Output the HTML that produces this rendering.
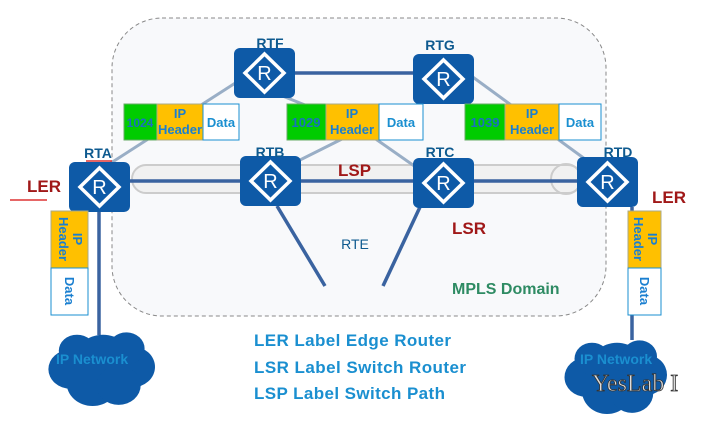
<!DOCTYPE html>
<html><head><meta charset="utf-8"><style>
body{margin:0;width:704px;height:434px;background:#fff;overflow:hidden;position:relative;font-family:"Liberation Sans",sans-serif}
.a{position:absolute}
</style></head><body>
<svg class="a" style="left:0;top:0" width="704" height="434">
<defs>
<g id="r"><rect x="0" y="0" width="61" height="50" rx="6" fill="#0e5aa7"/><polygon points="30.5,6 50,25 30.5,44 11,25" fill="none" stroke="#fff" stroke-width="3.5"/><text x="30.5" y="32" font-size="20" fill="#fff" text-anchor="middle" font-family="Liberation Sans">R</text></g>
<g id="cl"><circle cx="0" cy="0" r="22"/><circle cx="-25" cy="8" r="17"/><circle cx="22" cy="6" r="18"/><circle cx="-8" cy="20" r="20"/><circle cx="12" cy="22" r="17"/><circle cx="-20" cy="-8" r="14"/><circle cx="18" cy="-10" r="14"/></g>
</defs>
<rect x="112" y="18" width="494" height="298" rx="50" fill="#f8f9fb" stroke="#888" stroke-dasharray="4,3"/>
<rect x="132" y="165" width="450" height="28" rx="14" fill="#f1f1f1" stroke="#ccc" stroke-width="2"/>
<circle cx="566" cy="179" r="15" fill="none" stroke="#ccc" stroke-width="2"/>
<g stroke="#99aec6" stroke-width="3">
<line x1="100" y1="170" x2="240" y2="80"/><line x1="280" y1="95" x2="330" y2="115"/><line x1="290" y1="165" x2="350" y2="135"/>
<line x1="470" y1="75" x2="600" y2="170"/><line x1="420" y1="170" x2="370" y2="135"/>
</g>
<g stroke="#3a63a0" stroke-width="3.5">
<line x1="130" y1="181" x2="580" y2="181"/><line x1="295" y1="73" x2="413" y2="73"/>
<line x1="277" y1="206" x2="325" y2="286"/><line x1="420" y1="207" x2="383" y2="286"/>
<line x1="99" y1="212" x2="99" y2="335"/><line x1="632" y1="207" x2="632" y2="340"/>
</g>
<use href="#r" x="234" y="48"/><use href="#r" x="413" y="54"/><use href="#r" x="69" y="162"/>
<use href="#r" x="240" y="156"/><use href="#r" x="413" y="158"/><use href="#r" x="577" y="157"/>
<g fill="#0e5aa7"><use href="#cl" transform="translate(103,360) scale(1.3,1.15)"/><use href="#cl" transform="translate(617,368) scale(1.25,1.15)"/></g>
<g font-family="Liberation Sans" font-weight="bold" font-size="14" fill="#0e5a8f" text-anchor="middle">
<text x="270" y="48">RTF</text><text x="440" y="50">RTG</text><text x="98" y="158">RTA</text>
<text x="270" y="157">RTB</text><text x="440" y="157">RTC</text><text x="618" y="157">RTD</text>
<text x="355" y="249" font-weight="normal">RTE</text></g>
<g font-family="Liberation Sans" font-weight="bold" font-size="17" fill="#a01818">
<text x="338" y="176">LSP</text><text x="452" y="234">LSR</text><text x="27" y="192">LER</text><text x="652" y="203">LER</text></g>
<line x1="10" y1="200" x2="47" y2="200" stroke="#d33" stroke-width="1.5"/>
<line x1="86" y1="161" x2="112" y2="161" stroke="#d33" stroke-width="1.5"/>
<text x="452" y="294" font-family="Liberation Sans" font-weight="bold" font-size="16" fill="#2e8b63">MPLS Domain</text>
<g font-family="Liberation Sans" font-weight="bold" font-size="13">
<g transform="translate(124,104)"><rect width="33" height="36" fill="#00cc00" stroke="#6a6"/><rect x="33" width="46" height="36" fill="#ffc000" stroke="#aa8"/><rect x="79" width="36" height="36" fill="#fff" stroke="#1a8fd0"/><text x="16" y="23" text-anchor="middle" fill="#1a6fc0" font-size="12">1024</text><text x="56" y="14" text-anchor="middle" fill="#1a7fd0">IP</text><text x="56" y="30" text-anchor="middle" fill="#1a7fd0">Header</text><text x="97" y="23" text-anchor="middle" fill="#1a8fd0">Data</text></g>
<g transform="translate(287,104)"><rect width="39" height="36" fill="#00cc00" stroke="#6a6"/><rect x="39" width="53" height="36" fill="#ffc000" stroke="#aa8"/><rect x="92" width="44" height="36" fill="#fff" stroke="#1a8fd0"/><text x="19" y="23" text-anchor="middle" fill="#1a6fc0">1029</text><text x="65" y="14" text-anchor="middle" fill="#1a7fd0">IP</text><text x="65" y="30" text-anchor="middle" fill="#1a7fd0">Header</text><text x="114" y="23" text-anchor="middle" fill="#1a8fd0">Data</text></g>
<g transform="translate(465,104)"><rect width="40" height="36" fill="#00cc00" stroke="#6a6"/><rect x="40" width="54" height="36" fill="#ffc000" stroke="#aa8"/><rect x="94" width="42" height="36" fill="#fff" stroke="#1a8fd0"/><text x="20" y="23" text-anchor="middle" fill="#1a6fc0">1039</text><text x="67" y="14" text-anchor="middle" fill="#1a7fd0">IP</text><text x="67" y="30" text-anchor="middle" fill="#1a7fd0">Header</text><text x="115" y="23" text-anchor="middle" fill="#1a8fd0">Data</text></g>
<g transform="translate(51,211)"><rect width="37" height="57" fill="#ffc000" stroke="#aa8"/><rect y="57" width="37" height="47" fill="#fff" stroke="#1a8fd0"/><g fill="#1a7fd0" text-anchor="middle"><text transform="translate(22,28) rotate(90)" >IP</text><text transform="translate(8,28) rotate(90)">Header</text><text transform="translate(14,80) rotate(90)">Data</text></g></g>
<g transform="translate(628,211)"><rect width="33" height="57" fill="#ffc000" stroke="#aa8"/><rect y="57" width="33" height="47" fill="#fff" stroke="#1a8fd0"/><g fill="#1a7fd0" text-anchor="middle"><text transform="translate(20,28) rotate(90)" >IP</text><text transform="translate(6,28) rotate(90)">Header</text><text transform="translate(12,80) rotate(90)">Data</text></g></g>
</g>
<g font-family="Liberation Sans" font-weight="bold" font-size="14" fill="#1a8fd0">
<text x="56" y="364">IP Network</text><text x="580" y="364">IP Network</text></g>
<g font-family="Liberation Sans" font-weight="bold" font-size="17" fill="#1a8fd0">
<text x="254" y="346" textLength="197">LER  Label Edge Router</text><text x="254" y="373" textLength="212">LSR  Label Switch Router</text><text x="254" y="399" textLength="191">LSP  Label Switch Path</text></g>
<text x="592" y="391" font-family="Liberation Serif" font-size="24" fill="#ddd" stroke="#333" stroke-width="0.8">YesLab I</text>
</svg>
</body></html>
